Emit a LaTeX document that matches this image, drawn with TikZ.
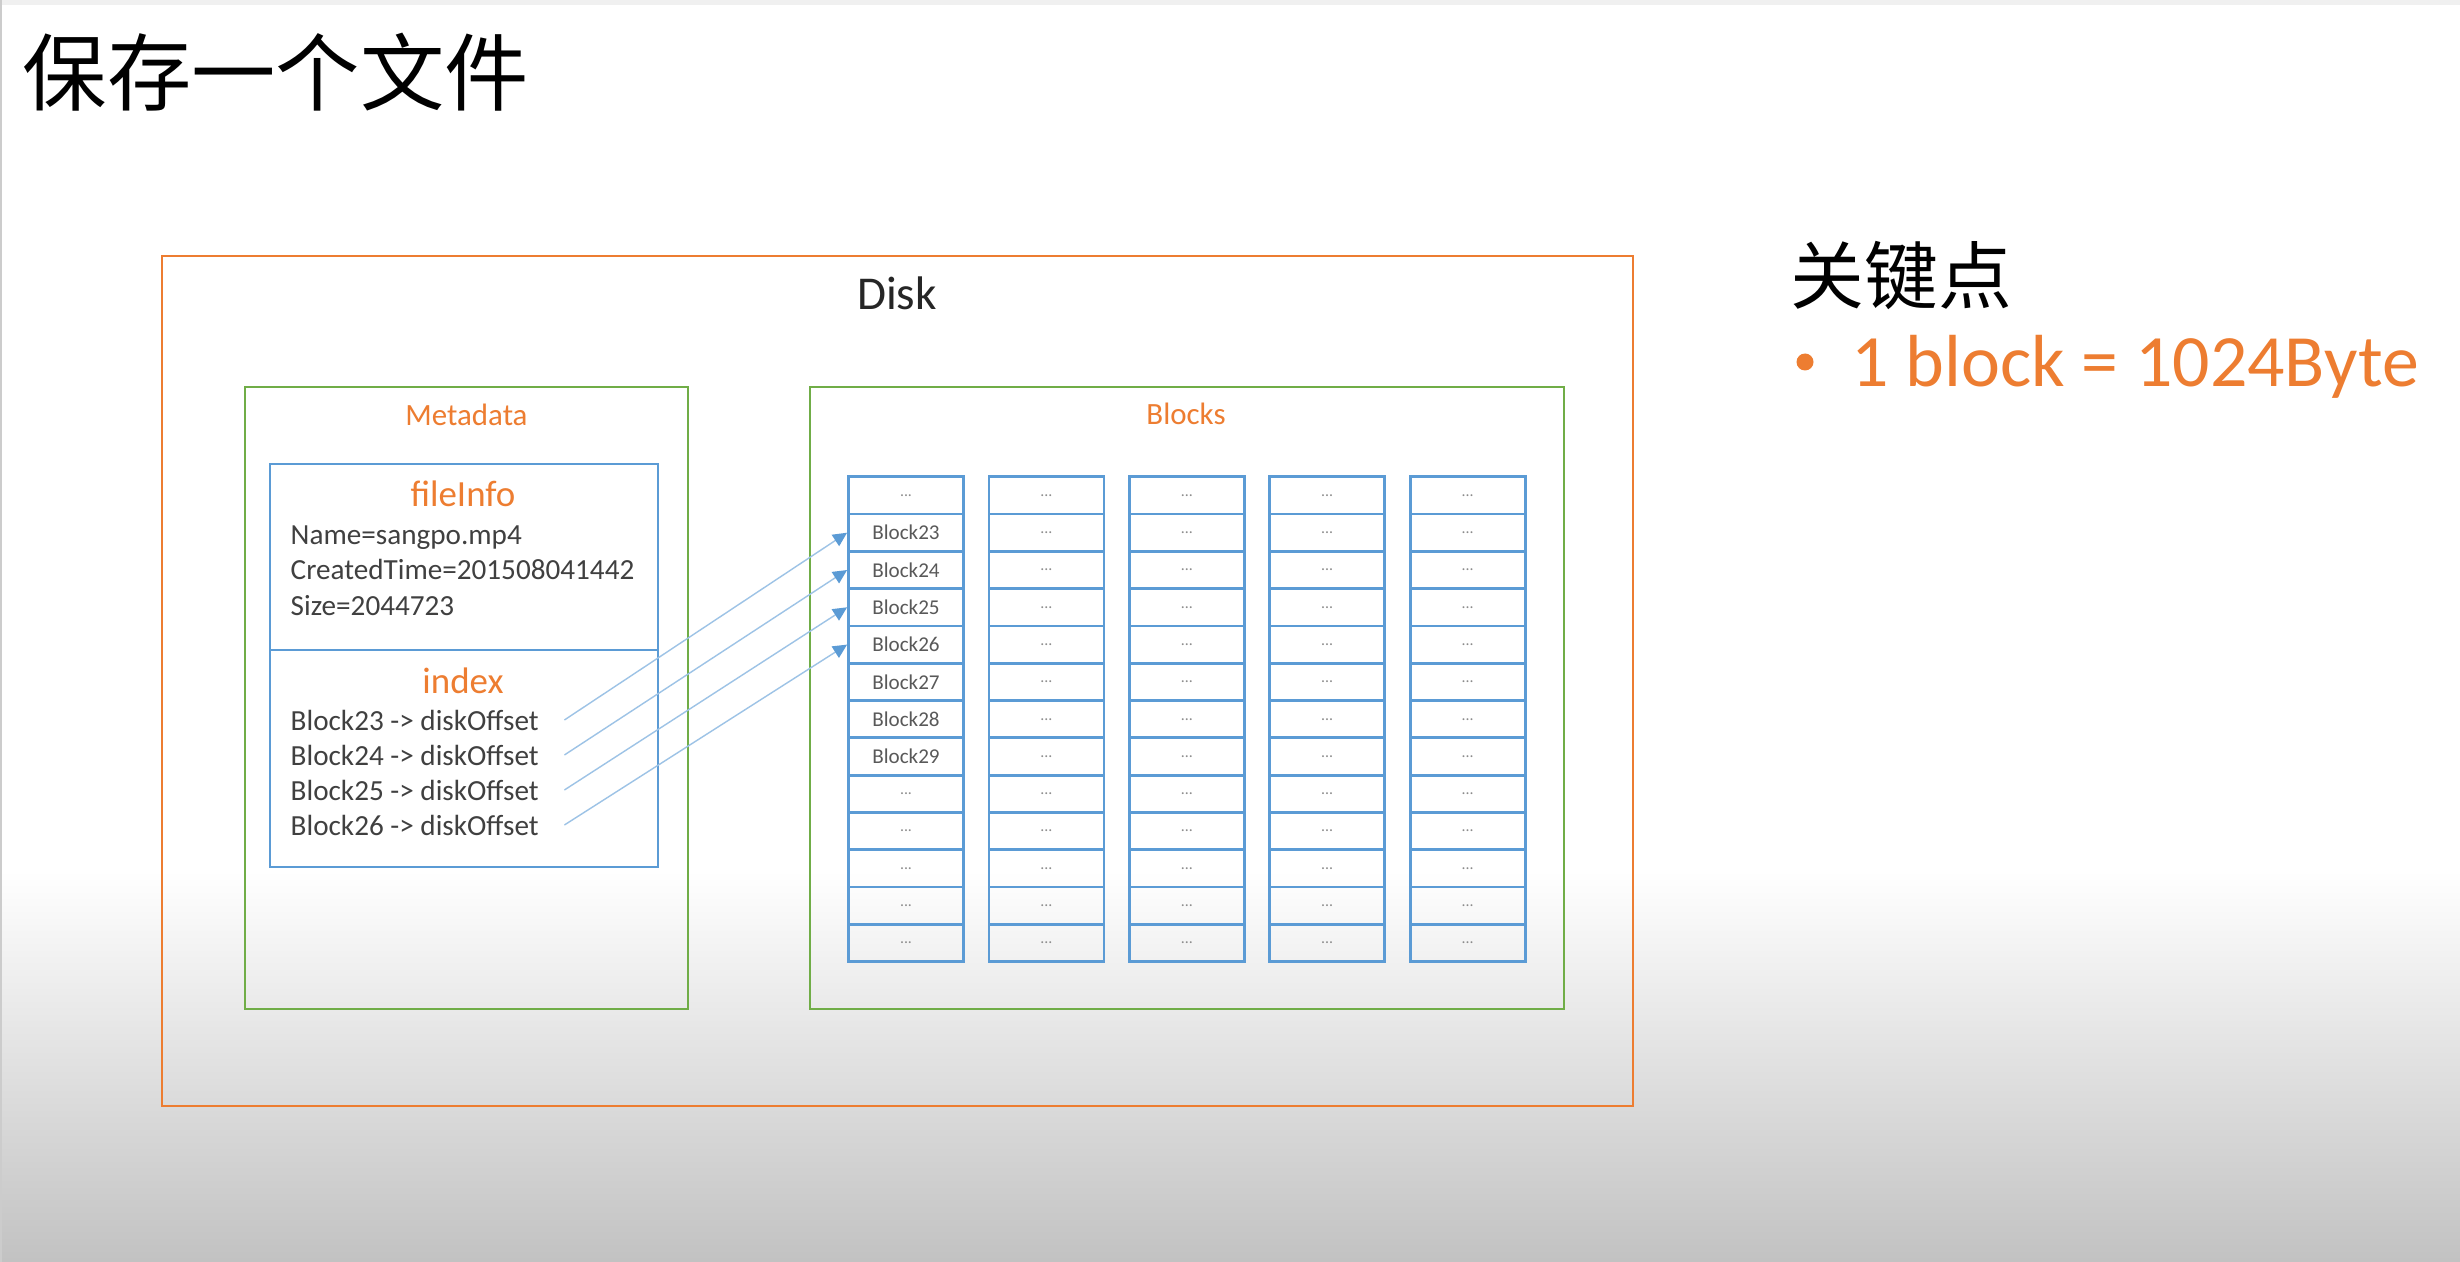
\documentclass[tikz,border=0pt]{standalone}
\usepackage{fontspec}
\setmainfont{Carlito}
\newfontfamily\cjk{Noto Sans CJK SC}
\usepackage{tikz}
\usetikzlibrary{arrows.meta}
\definecolor{diskorange}{HTML}{ED7D31}
\definecolor{boxgreen}{HTML}{70AD47}
\definecolor{cellblue}{HTML}{5B9BD5}
\definecolor{textgray}{HTML}{404040}
\newcommand{\celldots}{{\fontsize{4.5}{5}\selectfont\textcolor{black!45}{...}}}

\begin{document}
\begin{tikzpicture}[
    outerbox/.style={draw=diskorange, line width=0.6pt, inner sep=0, minimum width=14.71cm, minimum height=8.5cm},
    partbox/.style={draw=boxgreen, line width=0.6pt, inner sep=0, minimum height=6.22cm},
    infobox/.style={draw=cellblue, line width=0.8pt, inner sep=0, minimum width=3.88cm},
    cell/.style={draw=cellblue, line width=0.8pt, inner sep=0, minimum width=1.15cm, minimum height=0.373cm, font=\fontsize{6}{7}\selectfont, text=black!65},
    partlabel/.style={font=\fontsize{8.8}{10}\selectfont, text=diskorange},
    heading/.style={anchor=base, font=\fontsize{10.5}{12}\selectfont, text=diskorange},
    entry/.style={anchor=base west, inner sep=2pt, font=\fontsize{8.3}{10}\selectfont, text=textgray},
    link/.style={draw=cellblue!60, line width=0.4pt, -{Triangle[length=4pt, width=3.8pt, color=cellblue]}}
]

    % page and slide background
    \useasboundingbox (0,0) rectangle (24.6,-12.62);
    \fill[white] (0,0) rectangle (24.6,-12.62);
    \shade[top color=white, bottom color=black!24] (0,-8.7) rectangle (24.6,-12.62);
    \fill[black!6] (0,0) rectangle (24.6,-0.05);
    \draw[black!20, line width=0.5pt] (0.01,0) -- (0.01,-12.62);

    \node[anchor=west, inner sep=0, font=\cjk\fontsize{24}{28}\selectfont] (title) at (0.22,-0.72) {保存一个文件};

    % DISK
    \node[outerbox] (disk) at (8.975,-6.81) {};
    \node[font=\fontsize{13.4}{15}\selectfont, text=black!85] (disklabel) at (8.97,-2.93) {Disk};

    % LEFT: Metadata
    \node[partbox, minimum width=4.43cm] (meta) at (4.665,-6.98) {};
    \node[partlabel] (metalabel) at (4.665,-4.15) {Metadata};
    \node[infobox, minimum height=1.86cm] (fileinfo) at (4.64,-5.57) {};
    \node[infobox, minimum height=2.17cm] (index) at (4.64,-7.585) {};

    \node[heading] (fititle) at (4.63,-5.06) {fileInfo};
    \node[entry] (finame) at (2.83,-5.44) {Name=sangpo.mp4};
    \node[entry] (fitime) at (2.83,-5.79) {CreatedTime=201508041442};
    \node[entry] (fisize) at (2.83,-6.15) {Size=2044723};

    \node[heading] (ixtitle) at (4.63,-6.93) {index};
    \foreach \blk [count=\k] in {23,24,25,26}
        \node[entry] (ix\blk) at (2.83,{-7.30-0.35*(\k-1)}) {Block\blk{} -> diskOffset};

    % RIGHT: Blocks
    \node[partbox, minimum width=7.54cm] (blocks) at (11.87,-6.98) {};
    \node[partlabel] (blockslabel) at (11.86,-4.14) {Blocks};

    \foreach \row in {1,...,13} {
        \def\txt{\celldots}
        \ifnum\row>1 \ifnum\row<9 \pgfmathtruncatemacro{\num}{\row+21}\edef\txt{Block\num}\fi\fi
        \node[cell] (c-1-\row) at (9.06,{-4.954-0.373*(\row-1)}) {\txt};
    }
    \foreach \col in {2,...,5}
        \foreach \row in {1,...,13}
            \node[cell] (c-\col-\row) at ({9.06+1.404*(\col-1)},{-4.954-0.373*(\row-1)}) {\celldots};

    % index entries point at their blocks
    \foreach \blk [count=\k from 2] in {23,24,25,26}
        \draw[link] ([xshift=0.18cm]ix\blk.east) -- (c-1-\k.west);

    % key point
    \node[anchor=west, inner sep=0, font=\cjk\fontsize{21}{25}\selectfont] (keypts) at (17.9,-2.76) {关键点};
    \node[circle, fill=diskorange, inner sep=0, minimum size=0.17cm] (bullet) at (18.05,-3.62) {};
    \node[anchor=base west, inner sep=0, font=\fontsize{21}{25}\selectfont, text=diskorange] (blocksize) at (18.51,-3.86) {1 block = 1024Byte};

\end{tikzpicture}
\end{document}
